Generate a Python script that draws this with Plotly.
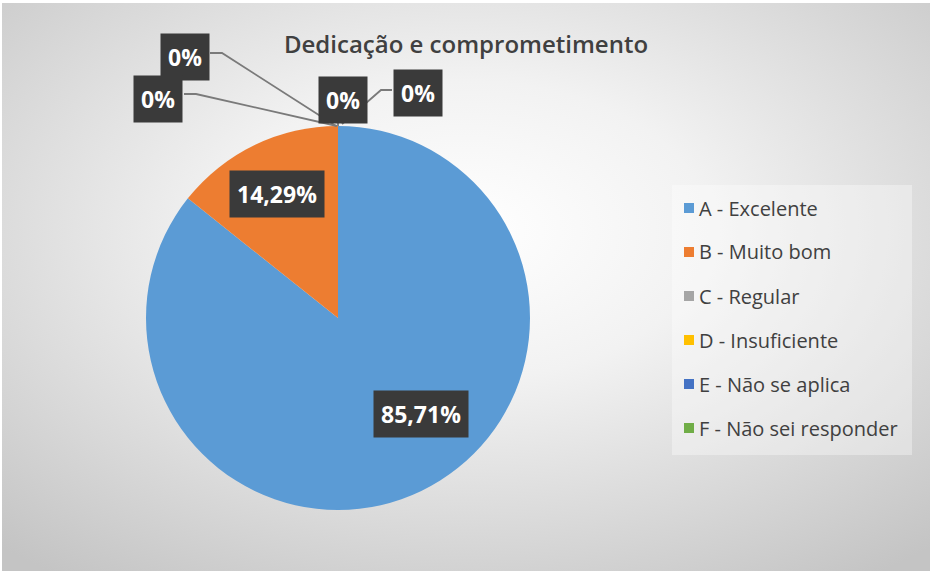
import math, base64
import plotly.graph_objects as go

# ---- data ----
categories = ["A - Excelente", "B - Muito bom", "C - Regular", "D - Insuficiente",
              "E - Não se aplica", "F - Não sei responder"]
values = [85.71, 14.29, 0, 0, 0, 0]
title_text = "Dedicação e comprometimento"

# ---- style ----
colors = ["#5B9BD5", "#ED7D31", "#A5A5A5", "#FFC000", "#4472C4", "#70AD47"]
W, H = 938, 574
CX, CY, R = 338, 318, 192          # pie centre / radius (px)
FONT = "Open Sans"

def P(x, y):
    return x / W, 1 - y / H

def fmt(v):
    if v == 0:
        return "0%"
    return f"{v:.2f}".replace(".", ",") + "%"

# label placement: polar (deg clockwise from top, radius fraction) for visible slices,
# pixel offsets from the pie top for the zero slices (with leader lines)
polar_pos = {0: (139, 0.66), 1: (334, 0.72)}
zero_offsets = {2: (-153, -69), 3: (-180, -27), 4: (5, -26), 5: (80, -33)}

fig = go.Figure()
fig.add_trace(go.Pie(
    labels=categories, values=values, sort=False, direction="clockwise", rotation=0,
    marker=dict(colors=colors, line=dict(width=0)),
    textinfo="none", showlegend=False, hoverinfo="label+percent",
    domain=dict(x=[(CX - R) / W, (CX + R) / W], y=[(H - CY - R) / H, (H - CY + R) / H]),
))

ann = []
shapes = []
box_kw = dict(showarrow=False, bgcolor="#3a3a3a", borderpad=7,
              font=dict(family=FONT, size=23, color="white", weight="bold"),
              xanchor="center", yanchor="middle")

topx, topy = CX, CY - R
for i, v in enumerate(values):
    if i in polar_pos:
        th, rf = polar_pos[i]
        x = CX + R * rf * math.sin(math.radians(th))
        y = CY - R * rf * math.cos(math.radians(th))
    else:
        dx, dy = zero_offsets[i]
        x, y = topx + dx, topy + dy
        # leader line
        if i == 2:
            pts = [(x + 25, y - 4), (x + 37, y - 4), (topx - 2, topy)]
        elif i == 3:
            pts = [(x + 26, y - 5), (x + 38, y - 5), (topx - 1, topy)]
        elif i == 4:
            pts = [(x - 5, y + 18), (topx, topy)]
        else:
            pts = [(x - 26, y - 3), (x - 37, y - 3), (topx + 4, topy - 2)]
        path = "M " + " L ".join(f"{P(a, b)[0]:.5f},{P(a, b)[1]:.5f}" for a, b in pts)
        shapes.append(dict(type="path", xref="paper", yref="paper", path=path,
                           line=dict(color="#7a7a7a", width=1.8), layer="above"))
    px, py = P(x, y)
    ann.append(dict(x=px, y=py, xref="paper", yref="paper", text=fmt(v), **box_kw))

# legend (manual, to match spacing)
LX, LY0, LDY = 689, 208, 44
shapes.append(dict(type="rect", xref="paper", yref="paper",
                   x0=P(672, 0)[0], x1=P(912, 0)[0], y0=P(0, 455)[1], y1=P(0, 185)[1],
                   fillcolor="rgba(255,255,255,0.35)", line=dict(width=0), layer="below"))
for i, (c, col) in enumerate(zip(categories, colors)):
    yy = LY0 + i * LDY
    shapes.append(dict(type="rect", xref="paper", yref="paper",
                       x0=P(LX - 5, 0)[0], x1=P(LX + 5, 0)[0],
                       y0=P(0, yy + 5)[1], y1=P(0, yy - 5)[1],
                       fillcolor=col, line=dict(width=0)))
    ann.append(dict(x=P(LX + 8, 0)[0], y=P(0, yy)[1], xref="paper", yref="paper",
                    text=c, showarrow=False, xanchor="left", yanchor="middle",
                    font=dict(family=FONT, size=20, color="#404040")))

# background gradient
svg = ('<svg xmlns="http://www.w3.org/2000/svg" width="928" height="568" preserveAspectRatio="none">'
       '<defs><radialGradient id="g" cx="50%" cy="40%" r="75%">'
       '<stop offset="0" stop-color="#ffffff"/><stop offset="0.35" stop-color="#f2f2f2"/>'
       '<stop offset="1" stop-color="#c4c4c4"/></radialGradient></defs>'
       '<rect width="928" height="568" fill="url(#g)"/></svg>')
src = "data:image/svg+xml;base64," + base64.b64encode(svg.encode()).decode()

fig.update_layout(
    width=W, height=H, margin=dict(l=0, r=0, t=0, b=0),
    paper_bgcolor="white", plot_bgcolor="white",
    title=dict(text=title_text, x=466 / W, y=1 - 45 / H, xanchor="center", yanchor="middle",
               font=dict(family=FONT, size=24, color="#404040", weight=600)),
    annotations=ann, shapes=shapes,
    images=[dict(source=src, xref="paper", yref="paper", x=P(2, 3)[0], y=P(2, 3)[1],
                 sizex=928 / W, sizey=568 / H, sizing="stretch", layer="below",
                 xanchor="left", yanchor="top")],
)
fig.write_html("out.html", config={"displayModeBar": False},
               post_script="document.body.style.margin='0';document.body.style.overflow='hidden';")
